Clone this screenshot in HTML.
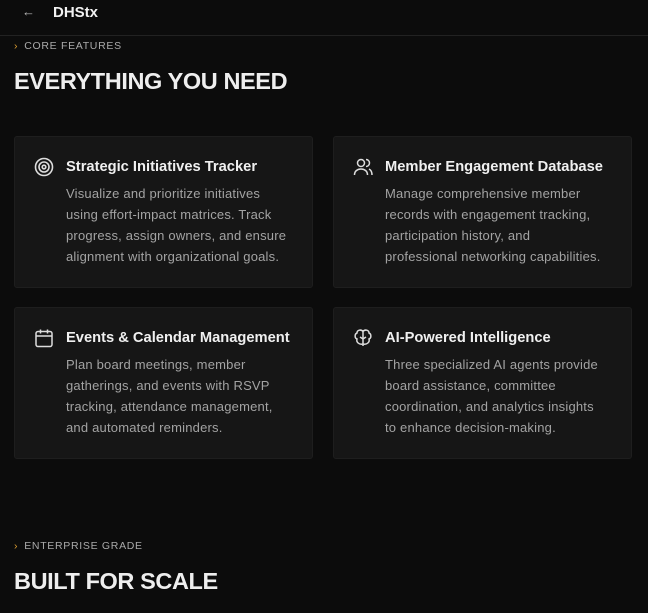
<!DOCTYPE html>
<html><head><style>
body{margin:0;width:648px;height:613px;background:#0c0c0c;font-family:"Liberation Sans",sans-serif;overflow:hidden;position:relative;color:#eee}
.hdr{position:absolute;left:0;top:0;width:648px;height:35px;border-bottom:1px solid #222}
.back{position:absolute;left:22px;top:4px;color:#bbb;font-size:13px}
.logo{position:absolute;left:53px;top:4px;font-size:15px;font-weight:bold;color:#f2f2f2}
.eyebrow{position:absolute;left:14px;font-size:10.5px;letter-spacing:0.7px;color:#aaa}
.eyebrow b{color:#e0a030;font-weight:normal;margin-right:6px}
.h{position:absolute;left:14px;font-size:23.5px;font-weight:bold;color:#eee;letter-spacing:-0.4px}
.card{position:absolute;width:297px;height:150px;background:#161616;border:1px solid #1e1e1e;border-radius:3px}
.card .t{position:absolute;left:51px;top:22px;font-size:14.7px;font-weight:bold;color:#f0f0f0}
.card .d{position:absolute;left:51px;top:46px;white-space:nowrap;font-size:13px;line-height:21px;color:#a3a3a3;letter-spacing:0.2px}
.card svg{position:absolute;left:19px;top:20px}
</style></head><body>
<div class="hdr"><div class="back">←</div><div class="logo">DHStx</div></div>
<div class="eyebrow" style="top:40px"><b>›</b>CORE FEATURES</div>
<div class="h" style="top:68px">EVERYTHING YOU NEED</div>
<div class="card" style="left:14px;top:136px">
<svg width="20" height="20" viewBox="0 0 20 20" fill="none" stroke="#ddd" stroke-width="1.6"><circle cx="10" cy="10" r="8.5"/><circle cx="10" cy="10" r="5"/><circle cx="10" cy="10" r="1.8"/></svg>
<div class="t">Strategic Initiatives Tracker</div>
<div class="d">Visualize and prioritize initiatives<br>using effort-impact matrices. Track<br>progress, assign owners, and ensure<br>alignment with organizational goals.</div></div>
<div class="card" style="left:333px;top:136px">
<svg width="20" height="20" viewBox="0 0 20 20" fill="none" stroke="#ddd" stroke-width="1.5"><circle cx="8" cy="6" r="3.5"/><path d="M1.5 18c0-4 3-6 6.5-6s6.5 2 6.5 6"/><path d="M13 2.5a3.5 3.5 0 0 1 0 7M16 12c2 1 3 3 3 6"/></svg>
<div class="t">Member Engagement Database</div>
<div class="d">Manage comprehensive member<br>records with engagement tracking,<br>participation history, and<br>professional networking capabilities.</div></div>
<div class="card" style="left:14px;top:307px">
<svg width="20" height="20" viewBox="0 0 20 20" fill="none" stroke="#ddd" stroke-width="1.5"><rect x="2" y="3.5" width="16" height="15" rx="2"/><path d="M2 8h16M6.5 1.5v4M13.5 1.5v4"/></svg>
<div class="t">Events &amp; Calendar Management</div>
<div class="d">Plan board meetings, member<br>gatherings, and events with RSVP<br>tracking, attendance management,<br>and automated reminders.</div></div>
<div class="card" style="left:333px;top:307px">
<svg width="20" height="20" viewBox="0 0 20 20" fill="none" stroke="#ddd" stroke-width="1.5"><path d="M10 2v16M10 3.5C8 1 4 2 4 5c-2.5 1-2.5 5 0 6-1 3 2 6 6 5M10 3.5c2-2.5 6-1.5 6 1.5 2.5 1 2.5 5 0 6 1 3-2 6-6 5M7 9l3 2 3-2"/></svg>
<div class="t">AI-Powered Intelligence</div>
<div class="d">Three specialized AI agents provide<br>board assistance, committee<br>coordination, and analytics insights<br>to enhance decision-making.</div></div>
<div class="eyebrow" style="top:540px"><b>›</b>ENTERPRISE GRADE</div>
<div class="h" style="top:568px">BUILT FOR SCALE</div>
</body></html>
